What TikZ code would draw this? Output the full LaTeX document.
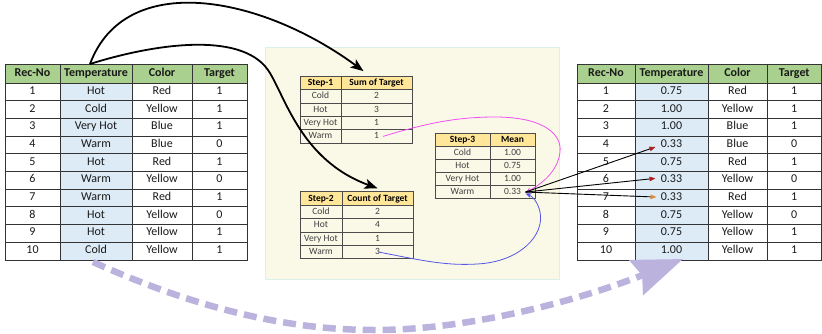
\documentclass[tikz,border=0pt]{standalone}
\usepackage{fontspec}
\setmainfont{Carlito}
\usetikzlibrary{arrows.meta}

\definecolor{hdrgreen}{RGB}{169,208,142}
\definecolor{hdrgold}{RGB}{255,230,153}
\definecolor{tempblue}{RGB}{221,235,247}
\definecolor{panelbg}{RGB}{250,249,232}
\definecolor{panelrule}{RGB}{218,240,232}
\definecolor{flowlav}{RGB}{188,178,222}
\definecolor{linkpink}{RGB}{240,80,240}
\definecolor{linkblue}{RGB}{85,85,230}
\definecolor{tipred}{RGB}{170,30,30}
\definecolor{tiporange}{RGB}{222,140,60}

% one table row: style, name prefix, top y, height, column borders, cell texts
\newcommand\trow[6]{%
  \pgfmathsetmacro\rowtop{#3}%
  \foreach \ctext [count=\ci] in {#6}{%
    \pgfmathsetmacro\xa{{#5}[\ci-1]}%
    \pgfmathsetmacro\xb{{#5}[\ci]}%
    \node[#1, minimum width={(\xb-\xa)*1pt}, minimum height={(#4)*1pt}, anchor=north west]
      (#2-\ci) at (\xa,\rowtop) {\ctext};%
  }%
}

\tikzset{
  cellbase/.style={inner sep=0pt, outer sep=0pt, text height=0.65em, text depth=0.15em, align=center},
  bigcell/.style={cellbase, draw=black!80, line width=1pt, text=black!90, font=\fontsize{12}{14}\selectfont},
  bighead/.style={bigcell, fill=hdrgreen, font=\fontsize{12}{14}\selectfont\bfseries},
  stepcell/.style={cellbase, draw=black!70, line width=0.8pt, text=black!75, font=\fontsize{9.5}{11}\selectfont},
  stephead/.style={stepcell, fill=hdrgold, text=black, font=\fontsize{9.5}{11}\selectfont\bfseries},
  bigarrow/.style={line width=1.8pt, -{Stealth[length=13pt,width=10pt,inset=3pt]}},
  pickarrow/.style={line width=0.9pt, black},
  flow/.style={flowlav, line width=6.5pt, dash pattern=on 13pt off 7pt,
    -{Stealth[length=50pt,width=37pt,inset=6pt]}}
}

\begin{document}
\begin{tikzpicture}[x=1pt,y=-1pt]
\useasboundingbox (0,0) rectangle (822,333);

% middle working panel
\draw[panelrule, fill=panelbg, line width=0.8pt] (265,47) rectangle (559,279);

% temperature column shading
\fill[tempblue] (60,83) rectangle (132,260);
\fill[tempblue] (635,83) rectangle (708,260);

% source table
\trow{bighead}{L-0}{64}{19}{5,60,132,192,247}{Rec-No,Temperature,Color,Target}
\trow{bigcell}{L-1}{83+17.7*0}{17.7}{5,60,132,192,247}{1,Hot,Red,1}
\trow{bigcell}{L-2}{83+17.7*1}{17.7}{5,60,132,192,247}{2,Cold,Yellow,1}
\trow{bigcell}{L-3}{83+17.7*2}{17.7}{5,60,132,192,247}{3,Very Hot,Blue,1}
\trow{bigcell}{L-4}{83+17.7*3}{17.7}{5,60,132,192,247}{4,Warm,Blue,0}
\trow{bigcell}{L-5}{83+17.7*4}{17.7}{5,60,132,192,247}{5,Hot,Red,1}
\trow{bigcell}{L-6}{83+17.7*5}{17.7}{5,60,132,192,247}{6,Warm,Yellow,0}
\trow{bigcell}{L-7}{83+17.7*6}{17.7}{5,60,132,192,247}{7,Warm,Red,1}
\trow{bigcell}{L-8}{83+17.7*7}{17.7}{5,60,132,192,247}{8,Hot,Yellow,0}
\trow{bigcell}{L-9}{83+17.7*8}{17.7}{5,60,132,192,247}{9,Hot,Yellow,1}
\trow{bigcell}{L-10}{83+17.7*9}{17.7}{5,60,132,192,247}{10,Cold,Yellow,1}

% encoded table
\trow{bighead}{R-0}{64}{19}{577,635,708,767,821.5}{Rec-No,Temperature,Color,Target}
\trow{bigcell}{R-1}{83+17.7*0}{17.7}{577,635,708,767,821.5}{1,0.75,Red,1}
\trow{bigcell}{R-2}{83+17.7*1}{17.7}{577,635,708,767,821.5}{2,1.00,Yellow,1}
\trow{bigcell}{R-3}{83+17.7*2}{17.7}{577,635,708,767,821.5}{3,1.00,Blue,1}
\trow{bigcell}{R-4}{83+17.7*3}{17.7}{577,635,708,767,821.5}{4,0.33,Blue,0}
\trow{bigcell}{R-5}{83+17.7*4}{17.7}{577,635,708,767,821.5}{5,0.75,Red,1}
\trow{bigcell}{R-6}{83+17.7*5}{17.7}{577,635,708,767,821.5}{6,0.33,Yellow,0}
\trow{bigcell}{R-7}{83+17.7*6}{17.7}{577,635,708,767,821.5}{7,0.33,Red,1}
\trow{bigcell}{R-8}{83+17.7*7}{17.7}{577,635,708,767,821.5}{8,0.75,Yellow,0}
\trow{bigcell}{R-9}{83+17.7*8}{17.7}{577,635,708,767,821.5}{9,0.75,Yellow,1}
\trow{bigcell}{R-10}{83+17.7*9}{17.7}{577,635,708,767,821.5}{10,1.00,Yellow,1}

% step 1: sum of target
\trow{stephead}{A-0}{76.1}{13.4}{300,341,412}{Step-1,Sum of Target}
\trow{stepcell}{A-1}{89.5+13.4*0}{13.4}{300,341,412}{Cold,2}
\trow{stepcell}{A-2}{89.5+13.4*1}{13.4}{300,341,412}{Hot,3}
\trow{stepcell}{A-3}{89.5+13.4*2}{13.4}{300,341,412}{Very Hot,1}
\trow{stepcell}{A-4}{89.5+13.4*3}{13.4}{300,341,412}{Warm,1}

% step 2: count of target
\trow{stephead}{B-0}{191.8}{13.4}{300,342,413}{Step-2,Count of Target}
\trow{stepcell}{B-1}{205.2+13.4*0}{13.4}{300,342,413}{Cold,2}
\trow{stepcell}{B-2}{205.2+13.4*1}{13.4}{300,342,413}{Hot,4}
\trow{stepcell}{B-3}{205.2+13.4*2}{13.4}{300,342,413}{Very Hot,1}
\trow{stepcell}{B-4}{205.2+13.4*3}{13.4}{300,342,413}{Warm,3}

% step 3: mean
\trow{stephead}{C-0}{133.3}{12.9}{435,490,535}{Step-3,Mean}
\trow{stepcell}{C-1}{146.2+13.1*0}{13.1}{435,490,535}{Cold,1.00}
\trow{stepcell}{C-2}{146.2+13.1*1}{13.1}{435,490,535}{Hot,0.75}
\trow{stepcell}{C-3}{146.2+13.1*2}{13.1}{435,490,535}{Very Hot,1.00}
\trow{stepcell}{C-4}{146.2+13.1*3}{13.1}{435,490,535}{Warm,0.33}

% temperature column feeds both aggregation steps
\draw[bigarrow] ([xshift=-6pt]L-0-2.north)
  .. controls (125,-30) and (260,-5) .. ([xshift=-13pt,yshift=5pt]A-0-2.north);
\draw[bigarrow] ([xshift=-6pt]L-0-2.north)
  .. controls (150,45) and (240,30) .. (268,70)
  .. controls (285,95) and (300,160) .. ([yshift=3.5pt]B-0-2.north);

% sum and count combine into the mean
\draw[linkpink, line width=0.8pt, -{Stealth[length=6pt,width=5pt]}] ([xshift=6.5pt]A-4-2.center)
  .. controls (430,122) and (460,117) .. (495,117)
  .. controls (545,117) and (562,135) .. (560,152)
  .. controls (558,172) and (540,185) .. ([xshift=13pt,yshift=-0.5pt]C-4-2.center);
\draw[linkblue, line width=0.8pt, -{Stealth[length=6pt,width=5pt]}] ([xshift=1.5pt]B-4-2.center)
  .. controls (420,260) and (445,266) .. (477,264)
  .. controls (520,262) and (545,235) .. (540,212)
  .. controls (538,202) and (532,196) .. ([xshift=13pt,yshift=-1.5pt]C-4-2.center);

% mean value replaces each Warm entry
\draw[pickarrow, -{Triangle[length=6pt,width=4.5pt,color=tipred]}]
  ([xshift=13pt]C-4-2.center) -- ([xshift=-16pt,yshift=-2pt]R-4-2.center);
\draw[pickarrow, -{Triangle[length=6pt,width=4.5pt,color=tipred]}]
  ([xshift=13pt]C-4-2.center) -- ([xshift=-16pt,yshift=2pt]R-6-2.center);
\draw[pickarrow, -{Triangle[length=6pt,width=4.5pt,color=tiporange]}]
  ([xshift=13pt]C-4-2.center) -- ([xshift=-15pt,yshift=1pt]R-7-2.center);

% overall transformation
\draw[flow] ([xshift=-3pt,yshift=-2pt]L-10-2.south)
  .. controls (200,310) and (290,330) .. (375,330)
  .. controls (470,330) and (580,300) .. ([xshift=11.5pt,yshift=1pt]R-10-2.south);
\end{tikzpicture}
\end{document}
